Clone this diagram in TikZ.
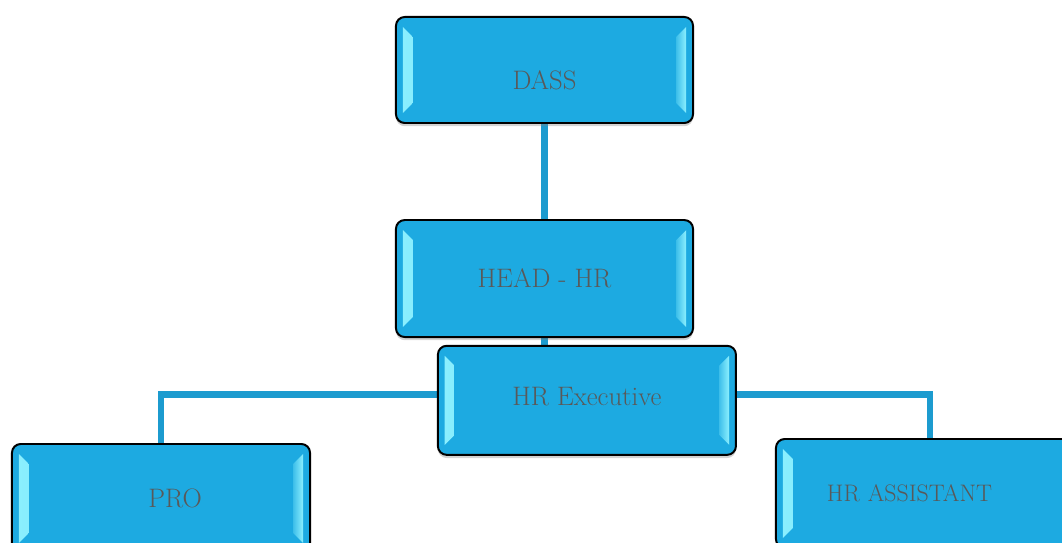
\documentclass[tikz,border=0pt]{standalone}
\usetikzlibrary{positioning,backgrounds,shadows}

\definecolor{boxfill}{HTML}{1DAAE1}
\definecolor{bevel}{HTML}{8CF0FF}
\definecolor{linkblue}{HTML}{1C9BCF}
\definecolor{labelgrey}{HTML}{595959}

\tikzset{
  orgbox/.style={draw=black, line width=1.4pt, rounded corners=0.22cm, fill=boxfill,
    drop shadow={opacity=0.35, shadow xshift=0pt, shadow yshift=-0.08cm},
    text=labelgrey, font=\fontsize{19}{22}\selectfont,
    path picture={
      \shade[sharp corners, left color=bevel, right color=boxfill!70!bevel]
        ([xshift=0.17cm,yshift=-0.25cm]path picture bounding box.north west)
        -- ++(0.25cm,-0.25cm) -- ([xshift=0.42cm,yshift=0.5cm]path picture bounding box.south west)
        -- ++(-0.25cm,-0.25cm) -- cycle;
      \shade[sharp corners, right color=bevel, left color=boxfill!70!bevel]
        ([xshift=-0.17cm,yshift=-0.25cm]path picture bounding box.north east)
        -- ++(-0.25cm,-0.25cm) -- ([xshift=-0.42cm,yshift=0.5cm]path picture bounding box.south east)
        -- ++(0.25cm,-0.25cm) -- cycle;
    }},
  link/.style={draw=linkblue, line width=4.6pt}
}

\begin{document}
\begin{tikzpicture}[x=0.025cm, y=-0.025cm, node distance=2.375cm]
  \useasboundingbox (0,0) rectangle (1062,543);
  \clip (0,0) rectangle (1062,543);

  \node[orgbox, minimum width=7.425cm, minimum height=2.65cm] (dass) at (544.5,70) {\raisebox{-0.25cm}[\height][\depth]{DASS}};
  \node[orgbox, minimum width=7.425cm, minimum height=2.925cm, below=of dass] (headhr) {HEAD - HR};
  \node[orgbox, minimum width=7.45cm, minimum height=2.725cm, below=0.17cm of headhr, xshift=1.06cm] (exec) {\raisebox{0.1cm}[\height][\depth]{HR Executive}};
  \node[orgbox, minimum width=7.45cm, minimum height=2.725cm] (pro) at (161,498.5) {\hspace*{0.7cm}PRO};
  \node[orgbox, minimum width=7.7cm, minimum height=2.725cm, text width=5.15cm, inner xsep=1.275cm, align=left,
        font=\fontsize{17}{20}\selectfont] (hrassist) at (930,493.5) {HR ASSISTANT};

  \begin{scope}[on background layer]
    \draw[link] (dass) -- (headhr);
    \draw[link] (headhr.south) -- (headhr.south |- exec.north);
    \coordinate (bus) at ([yshift=0.15cm]exec.center);
    \draw[link] (pro.north) |- (bus) -| (hrassist.north);
  \end{scope}
\end{tikzpicture}
\end{document}
